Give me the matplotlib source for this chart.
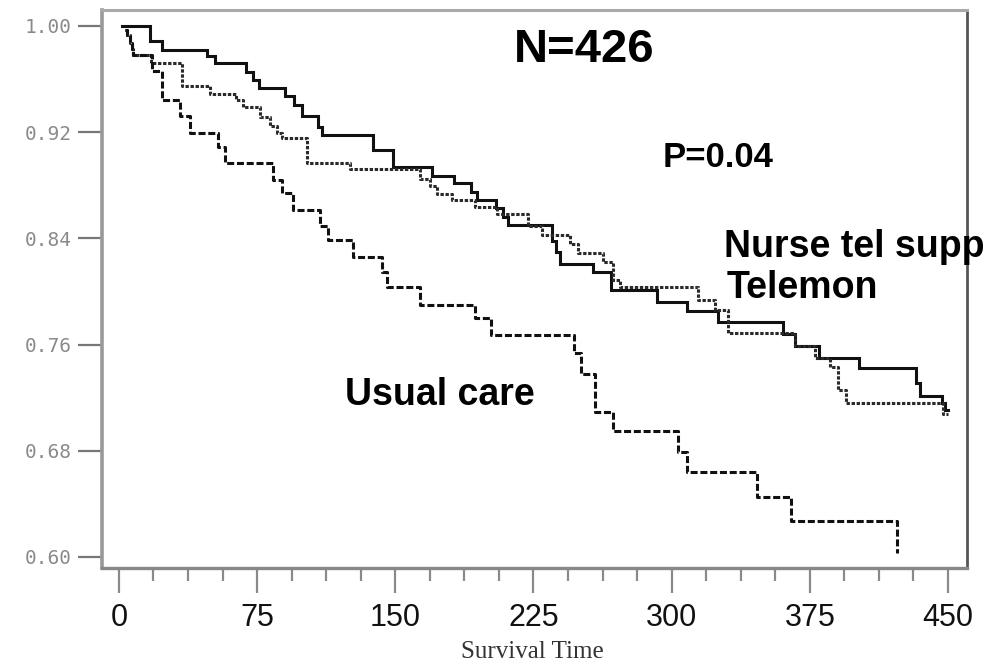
import matplotlib
matplotlib.use("Agg")
import matplotlib.pyplot as plt
import numpy as np

# ---- data ----
t_solid = [1.5, 16.8, 23.2, 47.6, 52.1, 68.8, 72.5, 76.2, 90.1, 95.2, 99.2, 108.2, 110.0,
           138.1, 148.9, 170.1, 181.9, 190.9, 194.4, 204.5, 208.7, 211.0, 235.0, 237.0,
           239.4, 257.5, 267.1, 291.9, 308.5, 325.4, 360.7, 367.0, 380.2, 401.7, 432.7,
           434.9, 446.6, 448.5, 450.0]
s_solid = [1.000, 0.989, 0.982, 0.977, 0.972, 0.965, 0.959, 0.953, 0.947, 0.9405, 0.932, 0.924, 0.918,
           0.9066, 0.894, 0.887, 0.8815, 0.875, 0.869, 0.863, 0.856, 0.850, 0.838, 0.830,
           0.821, 0.815, 0.801, 0.7923, 0.785, 0.777, 0.768, 0.759, 0.750, 0.7426, 0.731,
           0.7215, 0.716, 0.711, 0.711]

t_dotted = [3.3, 4.5, 6.0, 7.0, 7.8, 17.5, 34.0, 49.4, 63.5, 67.5, 76.5, 82.0, 85.6, 88.3,
            101.9, 125.4, 163.4, 168.8, 172.5, 180.6, 193.3, 205.0, 222.2, 229.5, 244.8,
            249.4, 262.9, 268.4, 272.0, 314.5, 323.6, 330.8, 367.0, 377.9, 386.0, 390.5,
            394.7, 447.5, 450.0]
s_dotted = [0.997, 0.993, 0.987, 0.983, 0.978, 0.972, 0.955, 0.949, 0.944, 0.9387, 0.9317, 0.9247, 0.9192, 0.9154,
            0.8966, 0.8925, 0.885, 0.8795, 0.8734, 0.869, 0.8634, 0.858, 0.849, 0.8426, 0.8358,
            0.8288, 0.8225, 0.8087, 0.8036, 0.7936, 0.786, 0.7685, 0.759, 0.7497, 0.7434, 0.7258,
            0.7158, 0.708, 0.708]

t_dashed = [3.3, 4.5, 6.0, 7.0, 7.8, 17.7, 23.2, 33.1, 38.5, 53.9, 57.5, 83.8, 88.3, 94.3,
            109.1, 113.3, 127.2, 142.6, 145.3, 163.4, 193.3, 201.8, 247.0, 250.8, 258.4,
            268.0, 303.3, 308.5, 346.2, 364.6, 422.4]
s_dashed = [0.997, 0.993, 0.987, 0.983, 0.978, 0.966, 0.944, 0.932, 0.919, 0.909, 0.8966, 0.884, 0.874, 0.8614,
            0.849, 0.839, 0.826, 0.815, 0.8036, 0.790, 0.780, 0.7672, 0.7534, 0.738, 0.7095,
            0.6952, 0.679, 0.6638, 0.6455, 0.6274, 0.603]

x_ticks = [0, 75, 150, 225, 300, 375, 450]
y_ticks = [0.60, 0.68, 0.76, 0.84, 0.92, 1.00]

W, H = 994, 662
fig = plt.figure(figsize=(W / 100, H / 100), dpi=100)
fig.patch.set_facecolor("white")
ax = fig.add_axes([102 / W, 1 - 568 / H, (967 - 102) / W, (568 - 10) / H])

ax.step(t_solid, s_solid, where="post", color="#111111", lw=2.2, solid_joinstyle="miter")
ax.step(t_dotted, s_dotted, where="post", color="#2a2a2a", lw=2.2, linestyle=(0, (1.1, 0.55)))
ax.step(t_dashed, s_dashed, where="post", color="#111111", lw=2.2, linestyle=(0, (2.3, 0.9)))

ax.set_xlim(-9.2, 460.3)
ax.set_ylim(0.5917, 1.012)

ax.set_xticks(x_ticks)
ax.set_xticklabels([str(v) for v in x_ticks], family="Liberation Sans", fontsize=22, color="#111111")
ax.set_xticks(np.arange(0, 451, 18.75), minor=True)
ax.set_yticks(y_ticks)
ax.set_yticklabels([f"{v:.2f}" for v in y_ticks], family="DejaVu Sans Mono", fontsize=14, color="#8a8a8a")

ax.tick_params(axis="x", which="major", length=18, width=1.6, color="#8a8a8a", direction="out", pad=7)
ax.tick_params(axis="x", which="minor", length=9, width=1.6, color="#8a8a8a", direction="out")
ax.tick_params(axis="y", which="major", length=17, width=1.6, color="#777777", direction="out", pad=5)

for side, col, lw in [("left", "#999999", 2.6), ("top", "#aaaaaa", 2.2),
                      ("bottom", "#888888", 2.4), ("right", "#555555", 2.0)]:
    ax.spines[side].set_color(col)
    ax.spines[side].set_linewidth(lw)

def px(x, y):
    return x / W, 1 - y / H

fig.text(*px(584, 62), "N=426", family="Liberation Sans", weight="bold", fontsize=34,
         ha="center", va="baseline", color="black")
fig.text(*px(663, 167), "P=0.04", family="Liberation Sans", weight="bold", fontsize=25,
         ha="left", va="baseline", color="black")
fig.text(*px(724, 257), "Nurse tel supp", family="Liberation Sans", weight="bold", fontsize=27,
         ha="left", va="baseline", color="black")
fig.text(*px(727, 298), "Telemon", family="Liberation Sans", weight="bold", fontsize=27,
         ha="left", va="baseline", color="black")
fig.text(*px(345, 405), "Usual care", family="Liberation Sans", weight="bold", fontsize=27,
         ha="left", va="baseline", color="black")
fig.text(*px(532, 652), "Survival Time", family="Liberation Serif", fontsize=18,
         ha="center", va="center", color="#333333")

fig.savefig("out.png", dpi=100, facecolor="white")
